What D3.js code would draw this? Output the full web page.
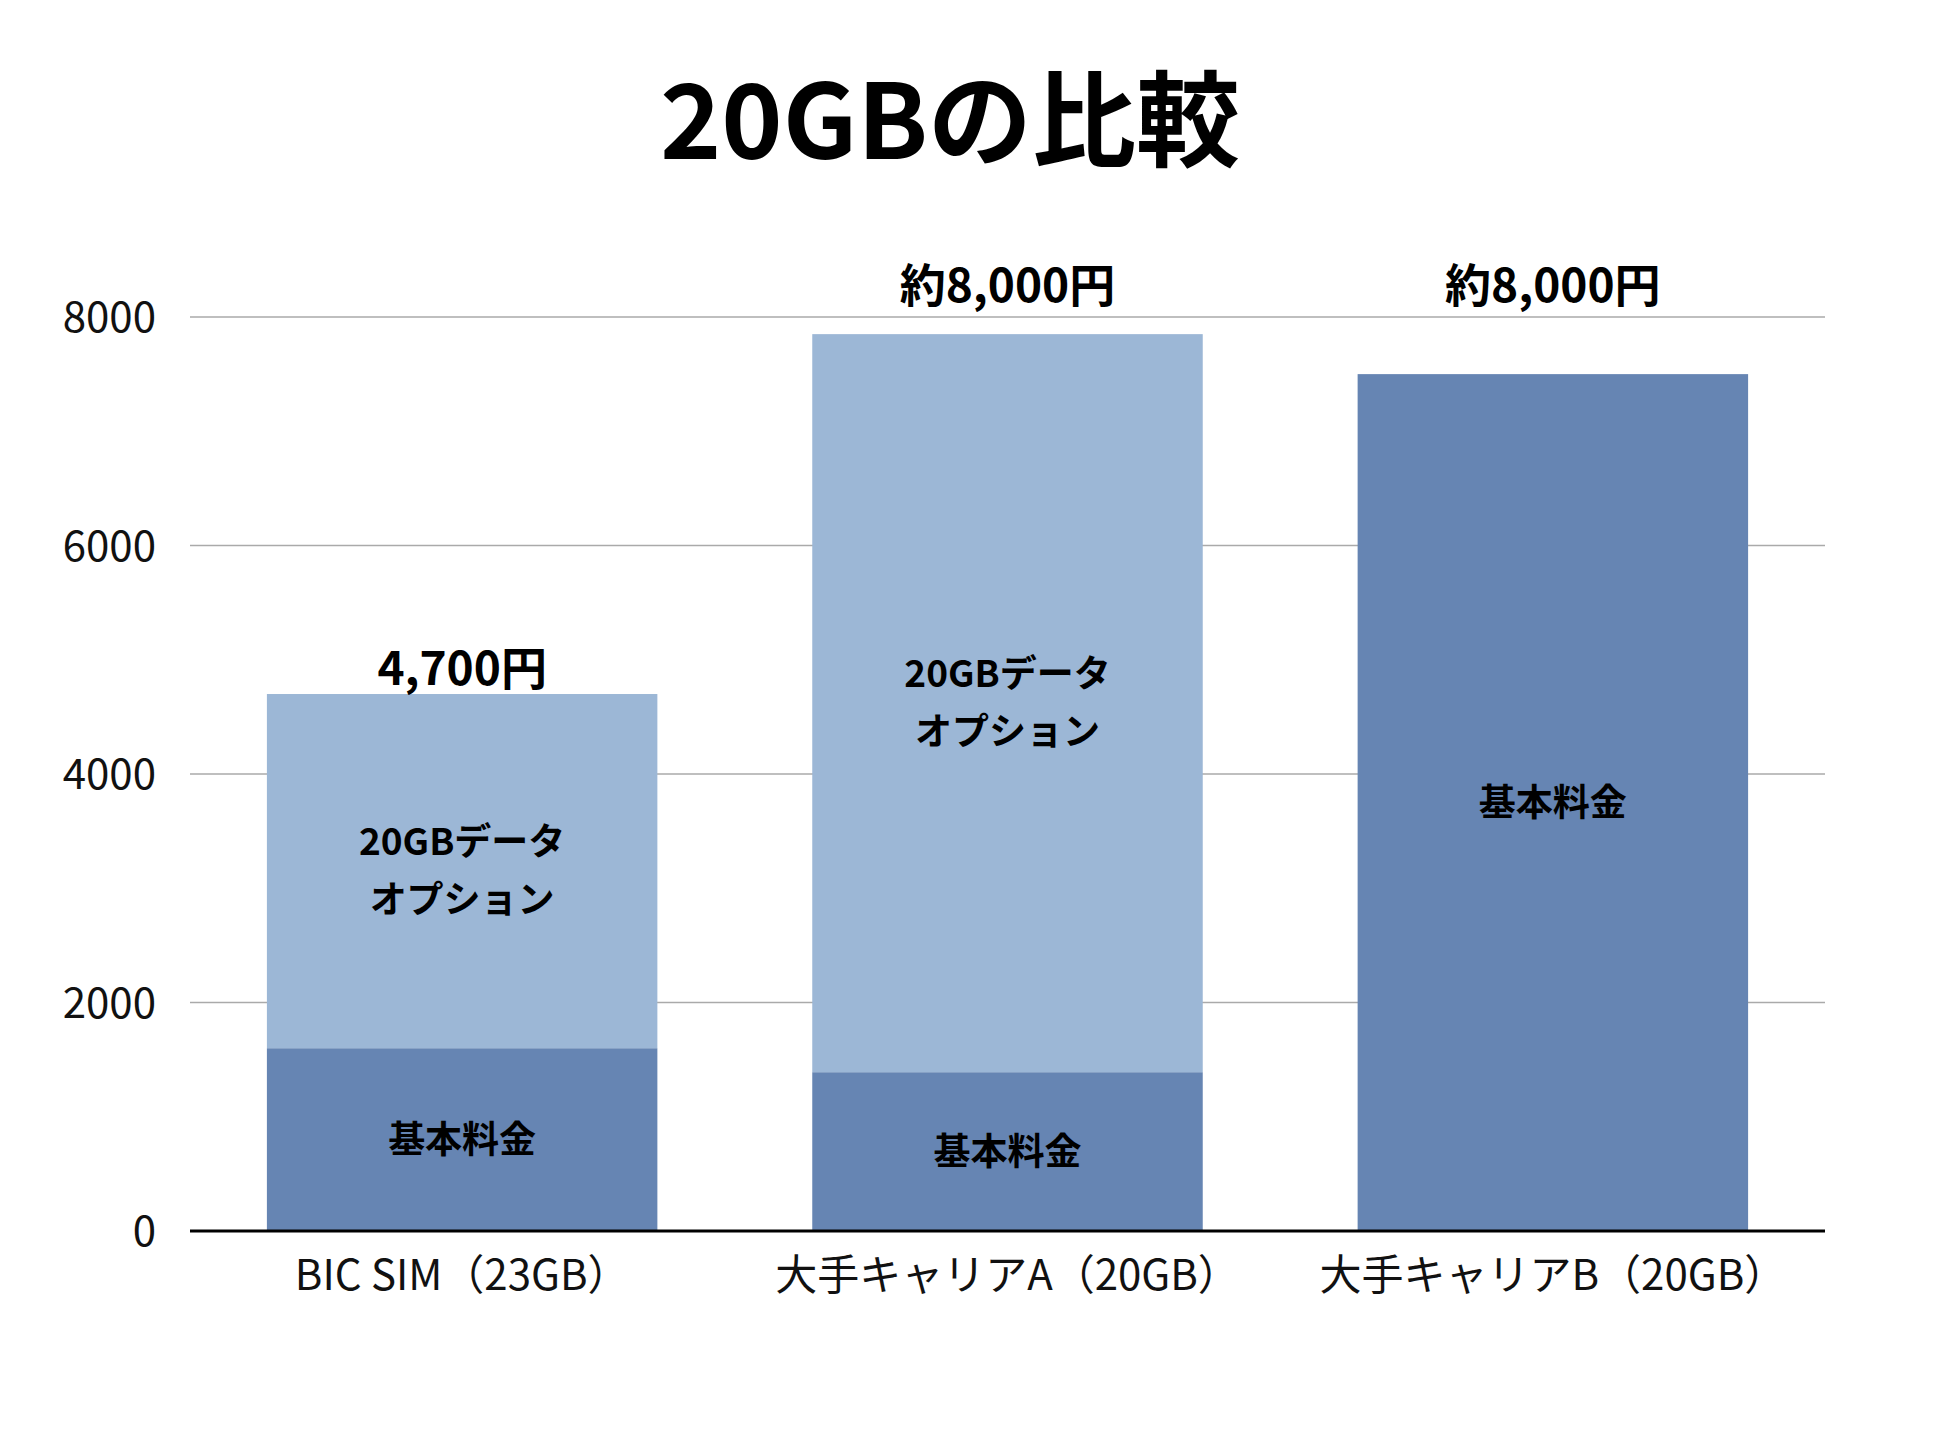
<!DOCTYPE html><html><head><meta charset="utf-8"><script src="https://cdn.jsdelivr.net/npm/d3@7"></script>
<style>body{margin:0;background:#fff}text{font-family:"Noto Sans CJK JP",sans-serif}</style></head><body><svg id="c" width="1950" height="1430"></svg>
<script>
const categories=["BIC SIM（23GB）","大手キャリアA（20GB）","大手キャリアB（20GB）"];
const baseFee=[1600,1390,7500];
const dataOption=[3100,6460,0];
const totalLabels=["4,700円","約8,000円","約8,000円"];
const baseLabel="基本料金";
const optionLabel=["20GBデータ","オプション"];
const ticks=[0,2000,4000,6000,8000];
const svg=d3.select("#c");
const x=d3.scaleBand().domain(categories).range([190,1825]).paddingInner(0.284).paddingOuter(0.141);
const y=d3.scaleLinear().domain([0,8000]).range([1231,317]);
// grid
svg.append("g").selectAll("line").data(ticks.slice(1)).join("line")
 .attr("x1",190).attr("x2",1825).attr("y1",d=>y(d)).attr("y2",d=>y(d)).attr("stroke","#aaa").attr("stroke-width",1.5);
svg.append("g").selectAll("text").data(ticks).join("text")
 .attr("x",156).attr("y",d=>y(d)).attr("dy","0.36em").attr("text-anchor","end").attr("font-size",42).attr("fill","#111").text(d=>d);
const cats=categories.map((c,i)=>({c,b:baseFee[i],o:dataOption[i],t:totalLabels[i]}));
svg.append("g").selectAll("rect").data(cats).join("rect").attr("x",d=>x(d.c)).attr("width",x.bandwidth())
 .attr("y",d=>y(d.b)).attr("height",d=>y(0)-y(d.b)).attr("fill","#6685b3");
svg.append("g").selectAll("rect").data(cats.filter(d=>d.o>0)).join("rect").attr("x",d=>x(d.c)).attr("width",x.bandwidth())
 .attr("y",d=>y(d.b+d.o)).attr("height",d=>y(d.b)-y(d.b+d.o)).attr("fill","#9cb7d6");
svg.append("line").attr("x1",190).attr("x2",1825).attr("y1",y(0)).attr("y2",y(0)).attr("stroke","#000").attr("stroke-width",3);
const cx=d=>x(d.c)+x.bandwidth()/2;
// base labels
svg.append("g").selectAll("text").data(cats).join("text").attr("x",cx).attr("y",d=>(y(0)+y(d.b))/2).attr("dy","0.36em")
 .attr("text-anchor","middle").attr("font-size",37).attr("font-weight","bold").text(baseLabel);
// option labels
cats.filter(d=>d.o>0).forEach(d=>{
 const m=(y(d.b)+y(d.b+d.o))/2;
 optionLabel.forEach((t,k)=>svg.append("text").attr("x",cx(d)).attr("y",m+(k-0.5)*58).attr("dy","0.36em")
  .attr("text-anchor","middle").attr("font-size",37).attr("font-weight","bold").text(t));
});
// totals
svg.append("g").selectAll("text").data(cats).join("text").attr("x",cx)
 .attr("y",(d,i)=>i===0?y(d.b+d.o)-26:285).attr("dy","0.36em").attr("text-anchor","middle").attr("font-size",46).attr("font-weight","bold").text(d=>d.t);
// categories
svg.append("g").selectAll("text").data(cats).join("text").attr("x",cx).attr("y",1275).attr("dy","0.36em")
 .attr("text-anchor","middle").attr("font-size",42).attr("fill","#111").text(d=>d.c);
svg.append("text").attr("x",950).attr("y",122).attr("dy","0.36em").attr("text-anchor","middle").attr("font-size",104).attr("font-weight","bold").text("20GBの比較");
</script></body></html>
